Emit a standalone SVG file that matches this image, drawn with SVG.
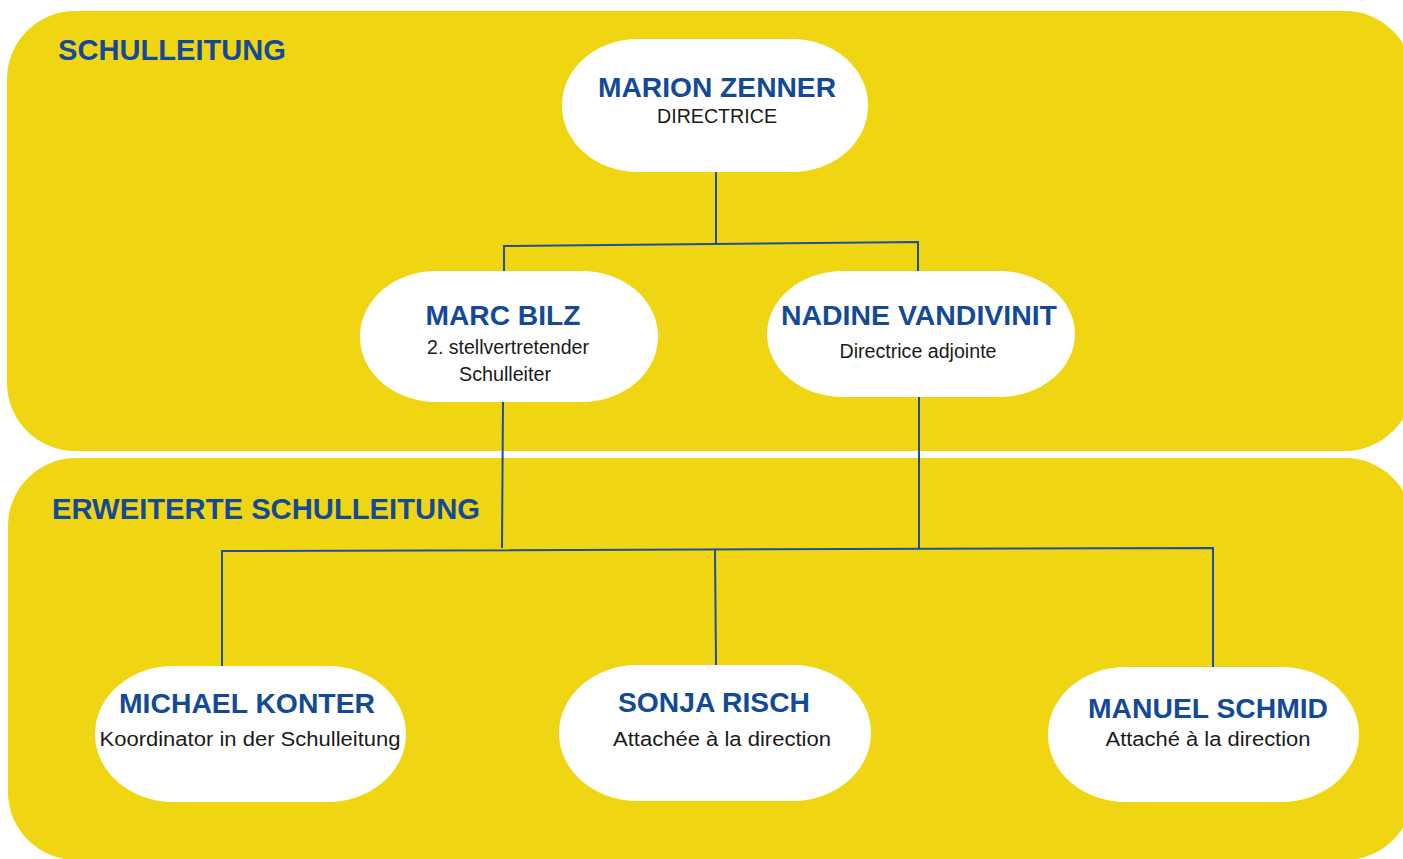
<svg xmlns="http://www.w3.org/2000/svg" width="1403" height="859" viewBox="0 0 1403 859">
<style>
.panel{fill:#f0d513}
.node{fill:#ffffff}
.title{font-family:"Liberation Sans",Arial,sans-serif;font-weight:bold;fill:#134a97;font-size:30px}
.name{font-family:"Liberation Sans",Arial,sans-serif;font-weight:bold;fill:#134a97;font-size:28px;text-anchor:middle}
.sub{font-family:"Liberation Sans",Arial,sans-serif;fill:#1a1a1a;font-size:20px;text-anchor:middle}
.conn{stroke:#1d4f9a;stroke-width:2;fill:none}
</style>
<rect width="1403" height="859" fill="#ffffff"/>
<g id="panel-schulleitung">
<rect class="panel" x="7" y="11" width="1406" height="440" rx="68" ry="68"/>
<text class="title" x="58" y="60" textLength="228" lengthAdjust="spacingAndGlyphs">SCHULLEITUNG</text>
</g>
<g id="panel-erweiterte">
<rect class="panel" x="8" y="458" width="1405" height="402" rx="68" ry="68"/>
<text class="title" x="52" y="519" textLength="428" lengthAdjust="spacingAndGlyphs">ERWEITERTE SCHULLEITUNG</text>
</g>
<g id="connectors">
<line class="conn" x1="716" y1="172" x2="716" y2="244"/>
<polyline class="conn" points="504,271 504,246 918,242 918,271"/>
<line class="conn" x1="503" y1="402" x2="502" y2="548"/>
<line class="conn" x1="919" y1="397" x2="919" y2="549"/>
<polyline class="conn" points="222,666 222,551 1213,548 1213,667"/>
<line class="conn" x1="715" y1="550" x2="716" y2="665"/>
</g>
<g id="node-zenner">
<rect class="node" x="562" y="39" width="306" height="133" rx="76" ry="66"/>
<text class="name" x="717" y="97" textLength="238" lengthAdjust="spacingAndGlyphs">MARION ZENNER</text>
<text class="sub" x="717" y="123" textLength="120" lengthAdjust="spacingAndGlyphs">DIRECTRICE</text>
</g>
<g id="node-bilz">
<rect class="node" x="360" y="271" width="298" height="131" rx="76" ry="65"/>
<text class="name" x="503" y="325" textLength="155" lengthAdjust="spacingAndGlyphs">MARC BILZ</text>
<text class="sub" x="508" y="354" textLength="162" lengthAdjust="spacingAndGlyphs">2. stellvertretender</text>
<text class="sub" x="505" y="381" textLength="92" lengthAdjust="spacingAndGlyphs">Schulleiter</text>
</g>
<g id="node-vandivinit">
<rect class="node" x="767" y="271" width="308" height="126" rx="76" ry="63"/>
<text class="name" x="919" y="325" textLength="276" lengthAdjust="spacingAndGlyphs">NADINE VANDIVINIT</text>
<text class="sub" x="918" y="358" textLength="157" lengthAdjust="spacingAndGlyphs">Directrice adjointe</text>
</g>
<g id="node-konter">
<rect class="node" x="95" y="666" width="311" height="136" rx="78" ry="68"/>
<text class="name" x="247" y="713" textLength="256" lengthAdjust="spacingAndGlyphs">MICHAEL KONTER</text>
<text class="sub" x="250" y="746" textLength="301" lengthAdjust="spacingAndGlyphs">Koordinator in der Schulleitung</text>
</g>
<g id="node-risch">
<rect class="node" x="559" y="665" width="312" height="136" rx="78" ry="68"/>
<text class="name" x="714" y="712" textLength="192" lengthAdjust="spacingAndGlyphs">SONJA RISCH</text>
<text class="sub" x="722" y="746" textLength="218" lengthAdjust="spacingAndGlyphs">Attachée à la direction</text>
</g>
<g id="node-schmid">
<rect class="node" x="1048" y="667" width="311" height="135" rx="78" ry="67"/>
<text class="name" x="1208" y="718" textLength="240" lengthAdjust="spacingAndGlyphs">MANUEL SCHMID</text>
<text class="sub" x="1208" y="746" textLength="205" lengthAdjust="spacingAndGlyphs">Attaché à la direction</text>
</g>
</svg>
